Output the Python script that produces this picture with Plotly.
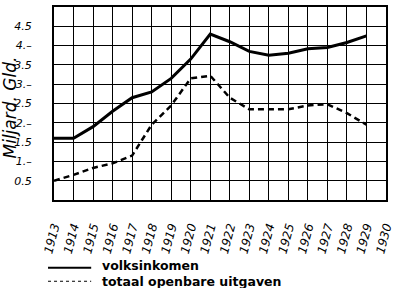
import plotly.graph_objects as go

years = list(range(1913, 1930))
volksinkomen = [1.6, 1.6, 1.9, 2.3, 2.65, 2.8, 3.15, 3.65, 4.3, 4.1, 3.85, 3.75, 3.8, 3.92, 3.95, 4.08, 4.25]
uitgaven = [0.5, 0.65, 0.83, 0.95, 1.15, 1.95, 2.45, 3.15, 3.22, 2.65, 2.35, 2.35, 2.35, 2.45, 2.48, 2.25, 1.95]

x_ticks = list(range(1913, 1931))
y_tickvals = [0.5, 1.0, 1.5, 2.0, 2.5, 3.0, 3.5, 4.0, 4.5]
y_ticktext = ["0.5", "1.–", "1.5", "2.–", "2.5", "3.–", "3.5", "4.–", "4.5"]

legend_labels = ["volksinkomen", "totaal openbare uitgaven"]

fig = go.Figure()
fig.add_trace(go.Scatter(x=years, y=volksinkomen, mode="lines",
                         line=dict(color="black", width=3), name=legend_labels[0],
                         showlegend=False))
fig.add_trace(go.Scatter(x=years, y=uitgaven, mode="lines",
                         line=dict(color="black", width=2.5, dash="6px,4px"), name=legend_labels[1],
                         showlegend=False))

fig.update_layout(
    width=400, height=288,
    margin=dict(l=54, r=7, t=5, b=88),
    paper_bgcolor="white", plot_bgcolor="white",
    font=dict(family="DejaVu Sans", color="black"),
)
fig.update_xaxes(
    range=[1913, 1930], tickvals=x_ticks, ticktext=[str(v) for v in x_ticks],
    tickangle=-75, tickfont=dict(size=12, style="italic"),
    showgrid=True, gridcolor="black", gridwidth=1.3,
    showline=True, linecolor="black", linewidth=2, mirror=True,
    ticks="", ticklabelstandoff=13, zeroline=False, ticklabeloverflow="allow",
)
fig.update_yaxes(
    range=[0, 5], tickvals=y_tickvals + [5.0], ticktext=y_ticktext + [""],
    tickfont=dict(size=11, style="italic"),
    showgrid=True, gridcolor="black", gridwidth=1.3,
    showline=True, linecolor="black", linewidth=2, mirror=True,
    ticks="", ticklabelstandoff=18, zeroline=False,
)

# y-axis title
fig.add_annotation(text="Miljard. Gld.", xref="paper", yref="paper", x=0, y=0.5,
                   xshift=-45, yshift=-4, textangle=-90, showarrow=False,
                   font=dict(size=17, style="italic", family="DejaVu Sans"),
                   xanchor="center", yanchor="middle")

# legend (drawn manually to match the print)
fig.add_shape(type="line", xref="paper", yref="paper", x0=-0.018, x1=0.112,
              y0=-0.351, y1=-0.351, line=dict(color="black", width=2))
fig.add_shape(type="line", xref="paper", yref="paper", x0=-0.018, x1=0.112,
              y0=-0.421, y1=-0.421, line=dict(color="black", width=1, dash="dot"))
fig.add_annotation(text="<b>" + legend_labels[0] + "</b><br><b>" + legend_labels[1] + "</b>",
                   xref="paper", yref="paper", align="left",
                   x=0.1416, y=-0.38, xanchor="left", yanchor="middle", showarrow=False,
                   borderpad=0, font=dict(size=12.5, family="DejaVu Sans"))

fig.write_html("out.html")
